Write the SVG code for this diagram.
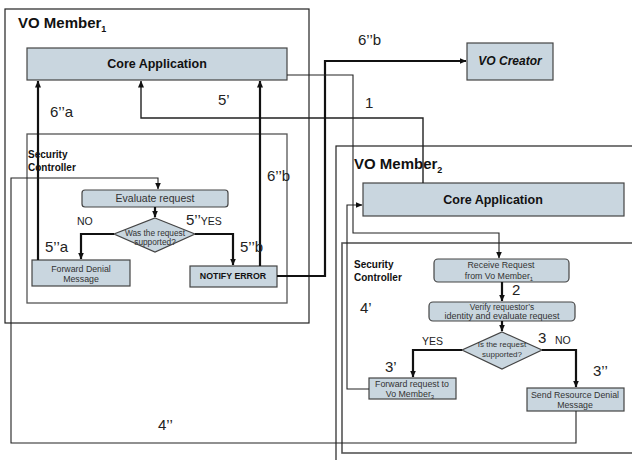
<svg xmlns="http://www.w3.org/2000/svg" width="632" height="460" viewBox="0 0 632 460">
  <defs>
    <marker id="arr" markerWidth="7" markerHeight="6" refX="6.5" refY="3" orient="auto" markerUnits="userSpaceOnUse">
      <path d="M0,0 L7,3 L0,6 z" fill="#111"/>
    </marker>
    <style>
      text { font-family: "Liberation Sans", Arial, sans-serif; fill: #111; }
      .frame { fill: none; stroke: #222; stroke-width: 1.2; }
      .sc { fill: none; stroke: #555; stroke-width: 1.3; }
      .box { fill: #c9d6df; stroke: #444; stroke-width: 1.2; }
      .title { font-size: 15px; font-weight: bold; }
      .sub { font-size: 9px; font-weight: bold; }
      .core { font-size: 12.5px; font-weight: bold; text-anchor: middle; }
      .sclbl { font-size: 10px; font-weight: bold; }
      .small { font-size: 8.8px; fill: #333; text-anchor: middle; }
      .tiny { font-size: 8px; fill: #333; text-anchor: middle; }
      .num { font-size: 15px; fill: #222; }
      .yn { font-size: 10.5px; fill: #222; }
      .thin { fill: none; stroke: #222; stroke-width: 1.1; }
      .thick { fill: none; stroke: #111; stroke-width: 2.2; }
    </style>
  </defs>

  <!-- VO Member 1 -->
  <g id="vo-member-1">
    <rect class="frame" x="5" y="9" width="304" height="314"/>
    <text class="title" x="18" y="28">VO Member<tspan class="sub" dy="4">1</tspan></text>
  </g>
  <g id="core-app-1">
    <rect class="box" x="27" y="48" width="260" height="32"/>
    <text class="core" x="157" y="68">Core Application</text>
  </g>
  <g id="security-controller-1">
    <rect class="sc" x="27" y="134" width="260" height="169"/>
    <text class="sclbl" x="28" y="158">Security</text>
    <text class="sclbl" x="28" y="171">Controller</text>
  </g>
  <g id="evaluate-request">
    <rect class="box" x="82" y="190" width="146" height="17" rx="3"/>
    <text class="small" x="155" y="202" style="font-size:10.5px">Evaluate request</text>
  </g>
  <g id="decision-1">
    <polygon class="box" points="155,218 195,234 155,252 114,234"/>
    <text class="tiny" x="155" y="236" style="font-size:8.3px">Was the request</text>
    <text class="tiny" x="155" y="245" style="font-size:8.3px">supported?</text>
  </g>
  <g id="forward-denial">
    <rect class="box" x="32" y="260" width="98" height="26"/>
    <text class="small" x="81" y="272">Forward Denial</text>
    <text class="small" x="81" y="282">Message</text>
  </g>
  <g id="notify-error">
    <rect class="box" x="190" y="266" width="87" height="21"/>
    <text class="small" x="233" y="279" style="font-weight:bold;fill:#111">NOTIFY ERROR</text>
  </g>

  <!-- VO Creator -->
  <g id="vo-creator">
    <rect class="box" x="467" y="43" width="86" height="37"/>
    <text x="510" y="65" style="font-size:12px;font-weight:bold;font-style:italic;text-anchor:middle">VO Creator</text>
  </g>

  <!-- VO Member 2 -->
  <g id="vo-member-2">
    <rect class="frame" x="336" y="146" width="310" height="330"/>
    <text class="title" x="354" y="169">VO Member<tspan class="sub" dy="4">2</tspan></text>
  </g>
  <g id="core-app-2">
    <rect class="box" x="363" y="183" width="261" height="33"/>
    <text class="core" x="493" y="204">Core Application</text>
  </g>
  <g id="security-controller-2">
    <rect class="sc" x="342" y="243" width="300" height="210" style="stroke-width:1.6"/>
    <text class="sclbl" x="354" y="268">Security</text>
    <text class="sclbl" x="354" y="281">Controller</text>
  </g>
  <g id="receive-request">
    <rect class="box" x="434" y="259" width="135" height="23" rx="4"/>
    <text class="small" x="501" y="268">Receive Request</text>
    <text class="small" x="499" y="279">from Vo Member<tspan dy="2" style="font-size:6px">1</tspan></text>
  </g>
  <g id="verify-request">
    <rect class="box" x="429" y="302" width="146" height="19" rx="4"/>
    <text class="small" x="502" y="309.5" style="font-size:8.3px">Verify  requestor’s</text>
    <text class="small" x="502" y="319" style="font-size:9px">identity and evaluate request</text>
  </g>
  <g id="decision-2">
    <polygon class="box" points="502,332 542,350 502,369 462,350"/>
    <text class="tiny" x="502" y="347">Is the request</text>
    <text class="tiny" x="502" y="357">supported?</text>
  </g>
  <g id="forward-request">
    <rect class="box" x="369" y="378" width="87" height="21"/>
    <text class="small" x="412" y="387">Forward request to</text>
    <text class="small" x="410" y="397">Vo Member<tspan dy="2" style="font-size:6px">3</tspan></text>
  </g>
  <g id="send-denial">
    <rect class="box" x="527" y="388" width="97" height="23"/>
    <text class="small" x="575" y="398">Send Resource Denial</text>
    <text class="small" x="575" y="408">Message</text>
  </g>

  <!-- Connectors -->
  <g id="connectors">
    <!-- 6''a -->
    <polyline class="thick" points="38,260 38,81" marker-end="url(#arr)"/>
    <!-- 5' -->
    <polyline class="thin" points="423,183 423,118 141,118 141,81" style="stroke-width:1.4" marker-end="url(#arr)"/>
    <!-- 6''b to core application -->
    <polyline class="thick" points="260,266 260,81" marker-end="url(#arr)"/>
    <!-- 6''b to VO Creator -->
    <polyline class="thick" points="277,276 325,276 325,61 466,61" marker-end="url(#arr)"/>
    <!-- 1 -->
    <polyline class="thin" points="287,75 353,75 353,233 499,233 499,258" marker-end="url(#arr)"/>
    <!-- evaluate to decision -->
    <polyline class="thick" points="155,207 155,217" marker-end="url(#arr)"/>
    <!-- NO / YES in controller 1 -->
    <polyline class="thick" points="114,234 81,234 81,259" marker-end="url(#arr)"/>
    <polyline class="thick" points="195,234 233,234 233,265" marker-end="url(#arr)"/>
    <!-- 4'' -->
    <polyline class="thin" points="576,411 576,443 11,443 11,178 158,178 158,189" marker-end="url(#arr)"/>
    <!-- receive to verify -->
    <polyline class="thick" points="502,282 502,301" marker-end="url(#arr)"/>
    <!-- verify to decision -->
    <polyline class="thick" points="502,321 502,331" marker-end="url(#arr)"/>
    <!-- YES / NO in controller 2 -->
    <polyline class="thick" points="462,350 413,350 413,377" marker-end="url(#arr)"/>
    <polyline class="thick" points="542,350 576,350 576,387" marker-end="url(#arr)"/>
    <!-- 4' -->
    <polyline class="thin" points="369,389 347,389 347,205 362,205" marker-end="url(#arr)"/>
  </g>

  <!-- Step labels -->
  <g id="labels">
    <text class="num" x="50" y="117">6’’a</text>
    <text class="num" x="218" y="105">5’</text>
    <text class="num" x="358" y="45">6’’b</text>
    <text class="num" x="365" y="108">1</text>
    <text class="num" x="267" y="181">6’’b</text>
    <text class="yn" x="77" y="225">NO</text>
    <text class="num" x="186" y="225">5’’<tspan class="yn">YES</tspan></text>
    <text class="num" x="45" y="252">5’’a</text>
    <text class="num" x="240" y="252">5’’b</text>
    <text class="num" x="512" y="295">2</text>
    <text class="num" x="360" y="313">4’</text>
    <text class="num" x="538" y="343">3</text>
    <text class="yn" x="555" y="344">NO</text>
    <text class="yn" x="422" y="345">YES</text>
    <text class="num" x="385" y="372">3’</text>
    <text class="num" x="593" y="376">3’’</text>
    <text class="num" x="158" y="430">4’’</text>
  </g>
</svg>
